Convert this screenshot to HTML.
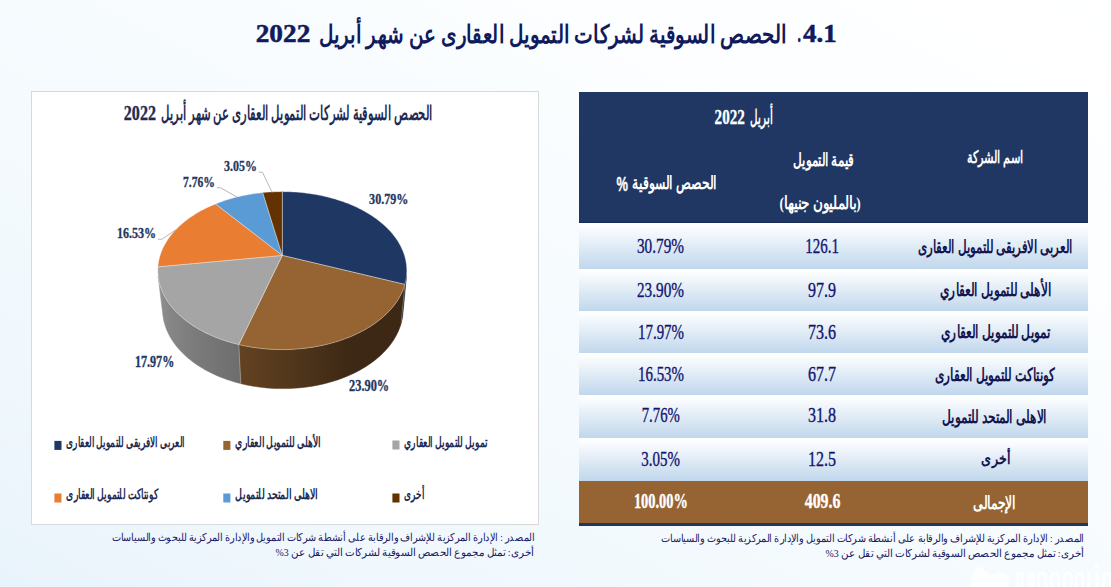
<!DOCTYPE html>
<html lang="ar"><head><meta charset="utf-8"><title>4.1</title>
<style>
html,body{margin:0;padding:0}
body{width:1111px;height:587px;overflow:hidden;position:relative;font-family:"Liberation Serif",serif;background:linear-gradient(to bottom left,#ffffff 0%,#fcfeff 25%,#f6fbfe 50%,#f0f8fd 82%,#e9f3fb 100%)}
#panel{position:absolute;left:30.9px;top:91.3px;width:506.4px;height:432px;background:#fff;border:1px solid #d9d9d9;box-sizing:content-box}
#tbl{position:absolute;left:579px;top:92px;width:509px;height:434px;background:#203764}
#tbl .h{position:absolute;left:0;top:0;width:100%;height:131px;background:#203764;box-sizing:border-box;border-bottom:1px solid #182c55}
#tbl .r{position:absolute;left:0;width:100%;background:linear-gradient(#ffffff 0%,#fdfeff 6%,#c0d7ec 100%)}
#tbl .t{position:absolute;left:0;top:389px;width:100%;height:41.6px;background:#966432}
svg{position:absolute;left:0;top:0}
.ar{font-family:"Liberation Serif",serif;direction:rtl}
</style></head><body>
<div id="panel"></div>
<div id="tbl"><div class="h"></div><div class="r" style="top:131.0px;height:45.5px"></div><div class="r" style="top:176.5px;height:42.5px"></div><div class="r" style="top:219.0px;height:42.0px"></div><div class="r" style="top:261.0px;height:42.3px"></div><div class="r" style="top:303.3px;height:42.5px"></div><div class="r" style="top:345.8px;height:43.2px"></div><div class="t"></div></div>
<svg width="1111" height="587" viewBox="0 0 1111 587">
<defs><linearGradient id="w0" gradientUnits="userSpaceOnUse" x1="401.24" y1="0" x2="406.57" y2="0"><stop offset="0.341" stop-color="#0c1628"/><stop offset="0.379" stop-color="#0c1628"/><stop offset="0.415" stop-color="#0c1628"/><stop offset="0.448" stop-color="#0c1628"/><stop offset="0.480" stop-color="#0c1628"/><stop offset="0.509" stop-color="#0c1628"/><stop offset="0.536" stop-color="#0c1628"/><stop offset="0.561" stop-color="#0c1628"/><stop offset="0.584" stop-color="#0c1628"/><stop offset="0.605" stop-color="#0c1628"/><stop offset="0.623" stop-color="#0c1628"/><stop offset="0.640" stop-color="#0c1628"/><stop offset="0.654" stop-color="#0c1628"/></linearGradient><linearGradient id="w1" gradientUnits="userSpaceOnUse" x1="238.80" y1="0" x2="404.87" y2="0"><stop offset="0.006" stop-color="#634221"/><stop offset="0.113" stop-color="#5d3e1f"/><stop offset="0.224" stop-color="#563a1d"/><stop offset="0.336" stop-color="#50361b"/><stop offset="0.446" stop-color="#4a3119"/><stop offset="0.551" stop-color="#442d17"/><stop offset="0.649" stop-color="#3e2915"/><stop offset="0.737" stop-color="#3c2814"/><stop offset="0.814" stop-color="#3c2814"/><stop offset="0.878" stop-color="#3c2814"/><stop offset="0.928" stop-color="#3c2814"/><stop offset="0.965" stop-color="#3c2814"/><stop offset="0.989" stop-color="#3c2814"/></linearGradient><linearGradient id="w2" gradientUnits="userSpaceOnUse" x1="158.17" y1="0" x2="240.76" y2="0"><stop offset="0.028" stop-color="#919191"/><stop offset="0.044" stop-color="#8e8e8e"/><stop offset="0.071" stop-color="#8b8b8b"/><stop offset="0.111" stop-color="#888888"/><stop offset="0.162" stop-color="#858585"/><stop offset="0.226" stop-color="#838383"/><stop offset="0.303" stop-color="#808080"/><stop offset="0.391" stop-color="#7d7d7d"/><stop offset="0.491" stop-color="#7a7a7a"/><stop offset="0.601" stop-color="#777777"/><stop offset="0.722" stop-color="#747474"/><stop offset="0.851" stop-color="#717171"/><stop offset="0.988" stop-color="#6d6d6d"/></linearGradient>
</defs>
<g id="pie"><path d="M406.57 275.41 L406.30 277.66 L405.93 279.92 L405.45 282.19 L404.87 284.45 L401.24 322.96 L401.80 320.67 L402.26 318.39 L402.62 316.12 L402.88 313.84Z" fill="url(#w0)" stroke="url(#w0)" stroke-width="0.5"/><path d="M404.87 284.45 L404.22 286.61 L403.46 288.77 L402.61 290.92 L401.66 293.07 L400.61 295.21 L399.45 297.34 L398.20 299.46 L396.84 301.56 L395.38 303.65 L393.82 305.72 L392.15 307.78 L390.39 309.80 L388.52 311.81 L386.55 313.79 L384.48 315.73 L382.31 317.65 L380.04 319.53 L377.68 321.37 L375.22 323.18 L372.66 324.95 L370.01 326.67 L367.27 328.34 L364.44 329.97 L361.52 331.54 L358.52 333.07 L355.43 334.54 L352.26 335.95 L349.02 337.30 L345.70 338.59 L342.31 339.82 L338.86 340.98 L335.34 342.07 L331.76 343.10 L328.12 344.06 L324.43 344.94 L320.69 345.75 L316.91 346.49 L313.08 347.15 L309.22 347.73 L305.33 348.24 L301.41 348.66 L297.46 349.01 L293.50 349.28 L289.53 349.47 L285.55 349.57 L281.56 349.60 L277.58 349.54 L273.60 349.41 L269.63 349.19 L265.67 348.89 L261.74 348.52 L257.83 348.06 L253.95 347.52 L250.10 346.91 L246.29 346.22 L242.52 345.46 L238.80 344.62 L240.76 383.58 L244.36 384.43 L248.00 385.20 L251.68 385.89 L255.40 386.51 L259.15 387.05 L262.93 387.51 L266.73 387.89 L270.55 388.19 L274.39 388.41 L278.23 388.54 L282.09 388.60 L285.94 388.57 L289.79 388.47 L293.63 388.28 L297.45 388.01 L301.26 387.66 L305.05 387.23 L308.81 386.72 L312.54 386.13 L316.24 385.46 L319.89 384.72 L323.51 383.90 L327.07 383.01 L330.59 382.05 L334.05 381.02 L337.45 379.91 L340.79 378.74 L344.06 377.50 L347.27 376.20 L350.40 374.84 L353.46 373.42 L356.44 371.94 L359.35 370.41 L362.17 368.82 L364.90 367.18 L367.55 365.49 L370.11 363.76 L372.58 361.98 L374.96 360.16 L377.25 358.30 L379.44 356.41 L381.53 354.48 L383.53 352.51 L385.44 350.52 L387.24 348.50 L388.95 346.46 L390.56 344.39 L392.06 342.30 L393.48 340.20 L394.79 338.08 L396.00 335.94 L397.12 333.79 L398.13 331.64 L399.05 329.47 L399.88 327.30 L400.60 325.13 L401.24 322.96Z" fill="url(#w1)" stroke="url(#w1)" stroke-width="0.5"/><path d="M238.80 344.62 L235.10 343.70 L231.46 342.71 L227.88 341.65 L224.37 340.53 L220.92 339.33 L217.54 338.07 L214.23 336.75 L211.00 335.36 L207.84 333.92 L204.77 332.41 L201.79 330.86 L198.89 329.25 L196.08 327.59 L193.37 325.88 L190.74 324.13 L188.21 322.34 L185.78 320.50 L183.45 318.63 L181.21 316.72 L179.08 314.77 L177.05 312.80 L175.12 310.80 L173.29 308.77 L171.57 306.71 L169.95 304.64 L168.43 302.54 L167.02 300.43 L165.71 298.30 L164.50 296.17 L163.39 294.02 L162.39 291.86 L161.49 289.69 L160.69 287.53 L159.99 285.36 L159.39 283.18 L158.89 281.01 L158.48 278.85 L158.17 276.69 L162.86 315.13 L163.16 317.31 L163.55 319.49 L164.04 321.68 L164.62 323.87 L165.29 326.05 L166.07 328.24 L166.94 330.42 L167.91 332.59 L168.97 334.76 L170.14 336.92 L171.41 339.06 L172.77 341.19 L174.24 343.30 L175.80 345.39 L177.47 347.46 L179.24 349.50 L181.10 351.52 L183.06 353.51 L185.13 355.47 L187.28 357.39 L189.54 359.28 L191.89 361.13 L194.33 362.94 L196.87 364.70 L199.49 366.42 L202.20 368.10 L205.00 369.72 L207.89 371.28 L210.86 372.80 L213.90 374.25 L217.02 375.65 L220.22 376.98 L223.49 378.25 L226.82 379.46 L230.22 380.59 L233.68 381.66 L237.20 382.66 L240.76 383.58Z" fill="url(#w2)" stroke="url(#w2)" stroke-width="0.5"/><path d="M404.87 284.45 L401.24 322.96" stroke="#d8cfc4" stroke-opacity="0.6" stroke-width="0.6" fill="none"/><path d="M238.80 344.62 L240.76 383.58" stroke="#d8cfc4" stroke-opacity="0.6" stroke-width="0.6" fill="none"/><path d="M282.3 255.4 L282.30 191.61 L285.02 191.63 L287.73 191.69 L290.44 191.78 L293.15 191.91 L295.86 192.08 L298.56 192.29 L301.25 192.53 L303.94 192.82 L306.62 193.13 L309.29 193.49 L311.95 193.89 L314.60 194.32 L317.24 194.79 L319.86 195.29 L322.47 195.84 L325.07 196.42 L327.65 197.04 L330.21 197.69 L332.75 198.39 L335.28 199.12 L337.78 199.89 L340.26 200.69 L342.72 201.53 L345.15 202.41 L347.56 203.33 L349.94 204.28 L352.29 205.27 L354.62 206.30 L356.91 207.36 L359.17 208.46 L361.40 209.60 L363.59 210.77 L365.75 211.98 L367.87 213.22 L369.95 214.50 L371.99 215.81 L373.99 217.16 L375.95 218.55 L377.86 219.96 L379.73 221.42 L381.55 222.90 L383.32 224.42 L385.04 225.97 L386.70 227.56 L388.32 229.18 L389.87 230.82 L391.37 232.50 L392.82 234.21 L394.20 235.95 L395.52 237.72 L396.77 239.52 L397.96 241.35 L399.08 243.20 L400.14 245.08 L401.12 246.99 L402.03 248.92 L402.87 250.87 L403.63 252.85 L404.31 254.85 L404.92 256.87 L405.44 258.91 L405.89 260.97 L406.24 263.05 L406.52 265.14 L406.70 267.25 L406.80 269.37 L406.81 271.50 L406.72 273.64 L406.55 275.79 L406.27 277.95 L405.91 280.12 L405.45 282.28 L404.88 284.45Z" fill="#1f3763" stroke="#f2f2f2" stroke-opacity="0.7" stroke-width="0.55" stroke-linejoin="round"/><path d="M282.3 255.4 L404.88 284.45 L404.23 286.61 L403.48 288.77 L402.62 290.92 L401.67 293.07 L400.62 295.21 L399.46 297.34 L398.21 299.46 L396.85 301.57 L395.39 303.65 L393.83 305.73 L392.16 307.78 L390.39 309.81 L388.52 311.81 L386.56 313.79 L384.48 315.73 L382.32 317.65 L380.05 319.53 L377.68 321.38 L375.22 323.18 L372.66 324.94 L370.01 326.67 L367.27 328.34 L364.44 329.97 L361.52 331.54 L358.51 333.06 L355.42 334.53 L352.26 335.94 L349.01 337.29 L345.70 338.58 L342.31 339.81 L338.85 340.97 L335.33 342.07 L331.75 343.09 L328.11 344.05 L324.42 344.93 L320.68 345.74 L316.90 346.48 L313.08 347.14 L309.22 347.72 L305.32 348.23 L301.40 348.65 L297.46 349.00 L293.50 349.27 L289.53 349.45 L285.55 349.56 L281.56 349.59 L277.58 349.53 L273.60 349.39 L269.63 349.18 L265.67 348.88 L261.74 348.50 L257.83 348.05 L253.95 347.51 L250.10 346.90 L246.29 346.21 L242.52 345.45 L238.80 344.61Z" fill="#966432" stroke="#f2f2f2" stroke-opacity="0.7" stroke-width="0.55" stroke-linejoin="round"/><path d="M282.3 255.4 L238.80 344.61 L235.14 343.70 L231.54 342.73 L227.99 341.68 L224.50 340.56 L221.08 339.38 L217.73 338.14 L214.45 336.83 L211.24 335.46 L208.11 334.04 L205.06 332.56 L202.10 331.02 L199.22 329.43 L196.42 327.80 L193.72 326.11 L191.11 324.38 L188.59 322.61 L186.17 320.80 L183.84 318.95 L181.61 317.06 L179.47 315.15 L177.44 313.20 L175.51 311.22 L173.68 309.21 L171.94 307.18 L170.31 305.13 L168.79 303.06 L167.36 300.97 L166.03 298.87 L164.81 296.76 L163.69 294.63 L162.66 292.49 L161.74 290.35 L160.92 288.21 L160.19 286.06 L159.56 283.90 L159.03 281.75 L158.60 279.61 L158.26 277.46 L158.01 275.33 L157.85 273.20 L157.79 271.07 L157.81 268.96 L157.92 266.87Z" fill="#a5a5a5" stroke="#f2f2f2" stroke-opacity="0.7" stroke-width="0.55" stroke-linejoin="round"/><path d="M282.3 255.4 L157.92 266.87 L158.13 264.75 L158.42 262.65 L158.79 260.57 L159.25 258.50 L159.80 256.46 L160.42 254.43 L161.13 252.43 L161.91 250.44 L162.76 248.49 L163.70 246.55 L164.70 244.64 L165.78 242.76 L166.92 240.90 L168.13 239.07 L169.41 237.27 L170.75 235.50 L172.16 233.76 L173.62 232.05 L175.14 230.37 L176.73 228.72 L178.36 227.11 L180.05 225.52 L181.79 223.97 L183.59 222.46 L185.43 220.97 L187.32 219.52 L189.26 218.11 L191.24 216.73 L193.26 215.39 L195.32 214.08 L197.43 212.80 L199.57 211.57 L201.75 210.37 L203.97 209.20 L206.22 208.07 L208.50 206.98 L210.82 205.93 L213.17 204.91 L215.54 203.93Z" fill="#e97e32" stroke="#f2f2f2" stroke-opacity="0.7" stroke-width="0.55" stroke-linejoin="round"/><path d="M282.3 255.4 L215.54 203.93 L217.98 202.97 L220.46 202.04 L222.95 201.16 L225.48 200.32 L228.02 199.51 L230.59 198.75 L233.18 198.02 L235.79 197.33 L238.42 196.68 L241.06 196.07 L243.73 195.50 L246.40 194.97 L249.10 194.47 L251.80 194.02 L254.52 193.60 L257.24 193.23 L259.98 192.89 L262.73 192.60Z" fill="#5b9bd5" stroke="#f2f2f2" stroke-opacity="0.7" stroke-width="0.55" stroke-linejoin="round"/><path d="M282.3 255.4 L262.73 192.60 L265.51 192.33 L268.30 192.11 L271.09 191.93 L273.89 191.79 L276.69 191.69 L279.49 191.63 L282.30 191.61Z" fill="#633200" stroke="#f2f2f2" stroke-opacity="0.7" stroke-width="0.55" stroke-linejoin="round"/><path d="M258.60 172.10 L262.50 172.30 L272.20 192.50" stroke="#a6a6a6" stroke-width="0.8" fill="none"/><path d="M216.80 187.80 L220.60 187.80 L237.80 197.50" stroke="#a6a6a6" stroke-width="0.8" fill="none"/><path d="M158.00 239.10 L161.70 239.30 L175.60 230.00" stroke="#a6a6a6" stroke-width="0.8" fill="none"/></g>
<g id="wm" opacity="0.85"><path d="M969.1 587.7 L973.8 570.1 L981.3 566.1 L986.0 572.1 L990.0 575.5 L998.8 571.5 L1008.3 575.5 L1009.6 587.7Z" fill="#fff"/><path d="M1017.4 590 V575.5 A2.3 2.3 0 0 1 1022.0 575.5 V590" fill="none" stroke="#fff" stroke-width="3.5"/><path d="M1038.4 590 V576.9 A3.6 3.6 0 0 1 1045.6 576.9 V590" fill="none" stroke="#fff" stroke-width="3.5"/><path d="M1051.2 590 V576.9 A3.6 3.6 0 0 1 1058.5 576.9 V590" fill="none" stroke="#fff" stroke-width="3.5"/><path d="M1064.0 590 V576.9 A3.6 3.6 0 0 1 1071.3 576.9 V590" fill="none" stroke="#fff" stroke-width="3.5"/><path d="M1076.2 590 V576.5 A3.3 3.3 0 0 1 1082.8 576.5 V590" fill="none" stroke="#fff" stroke-width="3.5"/><path d="M1103.8 590 V576.9 A3.6 3.6 0 0 1 1111.1 576.9 V590" fill="none" stroke="#fff" stroke-width="3.5"/><rect x="1027.2" y="572.1" width="7.4" height="30" fill="#fff"/><rect x="1086.6" y="572.1" width="4.1" height="30" fill="#fff"/><rect x="1095.3" y="572.1" width="4.1" height="30" fill="#fff"/><circle cx="1096.7" cy="566.7" r="2.6" fill="#fff"/></g>
<g id="legend-markers"><rect x="54.4" y="440.9" width="7.1" height="9" fill="#1f3763"/><rect x="223.3" y="440.9" width="7.1" height="9" fill="#966432"/><rect x="392.4" y="440.5" width="7.1" height="9" fill="#a5a5a5"/><rect x="54.4" y="493.5" width="7.1" height="9" fill="#e97e32"/><rect x="223.3" y="493.5" width="7.1" height="9" fill="#5b9bd5"/><rect x="392.4" y="493.5" width="7.1" height="9" fill="#633200"/></g>
<g id="texts">
<text class="ar" x="552.7" y="43.1" font-size="24.9" font-weight="bold" fill="#101a5c" text-anchor="middle" textLength="468" lengthAdjust="spacingAndGlyphs">الحصص السوقية لشركات التمويل العقارى عن شهر أبريل</text>
<text transform="translate(255.70 42.15) scale(1.1101 1)" font-family="Liberation Serif" font-size="24.59" font-weight="bold" fill="#101a5c" stroke="#101a5c" stroke-width="0.5">2022</text>
<text transform="translate(803.00 42.06) scale(1.0946 1)" font-family="Liberation Serif" font-size="24.63" font-weight="bold" fill="#101a5c" stroke="#101a5c" stroke-width="0.5">4.1</text>
<text transform="translate(797.60 42.25) scale(0.5508 1)" font-family="Liberation Serif" font-size="24.69" font-weight="bold" fill="#101a5c" stroke="#101a5c" stroke-width="0.5">.</text>
<text class="ar" x="296.9" y="120.3" font-size="19.5" font-weight="bold" fill="#1e2a52" text-anchor="middle" textLength="271.7" lengthAdjust="spacingAndGlyphs">الحصص السوقية لشركات التمويل العقارى عن شهر أبريل</text>
<text transform="translate(123.80 119.80) scale(0.8050 1)" font-family="Liberation Serif" font-size="20.00" font-weight="bold" fill="#1e2a52" stroke="#1e2a52" stroke-width="0.35">2022</text>
<text transform="translate(369.10 203.58) scale(0.7820 1)" font-family="Liberation Serif" font-size="15.46" font-weight="bold" fill="#1f3864" stroke="#1f3864" stroke-width="0.35">30.79%</text>
<text transform="translate(349.10 390.58) scale(0.7830 1)" font-family="Liberation Serif" font-size="15.76" font-weight="bold" fill="#1f3864" stroke="#1f3864" stroke-width="0.35">23.90%</text>
<text transform="translate(134.90 366.57) scale(0.7483 1)" font-family="Liberation Serif" font-size="16.20" font-weight="bold" fill="#1f3864" stroke="#1f3864" stroke-width="0.35">17.97%</text>
<text transform="translate(117.00 238.19) scale(0.7855 1)" font-family="Liberation Serif" font-size="15.32" font-weight="bold" fill="#1f3864" stroke="#1f3864" stroke-width="0.35">16.53%</text>
<text transform="translate(183.00 187.39) scale(0.7823 1)" font-family="Liberation Serif" font-size="14.87" font-weight="bold" fill="#1f3864" stroke="#1f3864" stroke-width="0.35">7.76%</text>
<text transform="translate(224.10 171.49) scale(0.7787 1)" font-family="Liberation Serif" font-size="15.32" font-weight="bold" fill="#1f3864" stroke="#1f3864" stroke-width="0.35">3.05%</text>
<text class="ar" x="125.5" y="446.6" font-size="13.6" font-weight="bold" fill="#1e2a52" text-anchor="middle" textLength="118.4" lengthAdjust="spacingAndGlyphs">العربى الافريقى للتمويل العقارى</text>
<text class="ar" x="277.9" y="446.6" font-size="13.6" font-weight="bold" fill="#1e2a52" text-anchor="middle" textLength="85.1" lengthAdjust="spacingAndGlyphs">الأهلى للتمويل العقاري</text>
<text class="ar" x="445.8" y="446.6" font-size="13.6" font-weight="bold" fill="#1e2a52" text-anchor="middle" textLength="83" lengthAdjust="spacingAndGlyphs">تمويل للتمويل العقاري</text>
<text class="ar" x="112.3" y="499.2" font-size="13.6" font-weight="bold" fill="#1e2a52" text-anchor="middle" textLength="91.9" lengthAdjust="spacingAndGlyphs">كونتاكت للتمويل العقارى</text>
<text class="ar" x="276.7" y="499.2" font-size="13.6" font-weight="bold" fill="#1e2a52" text-anchor="middle" textLength="82.6" lengthAdjust="spacingAndGlyphs">الاهلى المتحد للتمويل</text>
<text class="ar" x="414.4" y="499.2" font-size="13.6" font-weight="bold" fill="#1e2a52" text-anchor="middle" textLength="20.2" lengthAdjust="spacingAndGlyphs">أخرى</text>
<text class="ar" x="323.1" y="541.3" font-size="10.6" fill="#1a1a66" text-anchor="middle" textLength="422.2" lengthAdjust="spacingAndGlyphs">المصدر : الإدارة المركزية للإشراف والرقابة على أنشطة شركات التمويل والإدارة المركزية للبحوث والسياسات</text>
<text class="ar" x="404.7" y="556.2" font-size="10.6" fill="#1a1a66" text-anchor="middle" textLength="258.4" lengthAdjust="spacingAndGlyphs">أخرى: تمثل مجموع الحصص السوقية لشركات التي تقل عن 3%</text>
<text class="ar" x="872.7" y="542.1" font-size="10.6" fill="#1a1a66" text-anchor="middle" textLength="422.9" lengthAdjust="spacingAndGlyphs">المصدر : الإدارة المركزية للإشراف والرقابة على أنشطة شركات التمويل والإدارة المركزية للبحوث والسياسات</text>
<text class="ar" x="954.7" y="557.0" font-size="10.6" fill="#1a1a66" text-anchor="middle" textLength="258.4" lengthAdjust="spacingAndGlyphs">أخرى: تمثل مجموع الحصص السوقية لشركات التي تقل عن 3%</text>
<text class="ar" x="761.6" y="124.0" font-size="20" font-weight="bold" fill="#fff" text-anchor="middle" textLength="22.5" lengthAdjust="spacingAndGlyphs">أبريل</text>
<text transform="translate(714.60 123.79) scale(0.7029 1)" font-family="Liberation Serif" font-size="21.48" font-weight="bold" fill="#fff" stroke="#fff" stroke-width="0.35">2022</text>
<text class="ar" x="674.6" y="189.3" font-size="17.7" font-weight="bold" fill="#fff" text-anchor="middle" textLength="84.3" lengthAdjust="spacingAndGlyphs">الحصص السوقية</text>
<text transform="translate(616.40 190.74) scale(0.6358 1)" font-family="Liberation Sans" font-size="20.17" font-weight="bold" fill="#fff" stroke="#fff" stroke-width="0.35">%</text>
<text class="ar" x="823.5" y="166.1" font-size="17.7" font-weight="bold" fill="#fff" text-anchor="middle" textLength="60.9" lengthAdjust="spacingAndGlyphs">قيمة التمويل</text>
<text class="ar" x="820.2" y="208.5" font-size="17.7" font-weight="bold" fill="#fff" text-anchor="middle" textLength="81.2" lengthAdjust="spacingAndGlyphs">(بالمليون جنيها)</text>
<text class="ar" x="995.0" y="163.3" font-size="17.3" font-weight="bold" fill="#fff" text-anchor="middle" textLength="56.7" lengthAdjust="spacingAndGlyphs">اسم الشركة</text>
<text class="ar" x="995.2" y="253.2" font-size="17.9" font-weight="bold" fill="#15154f" text-anchor="middle" textLength="154.4" lengthAdjust="spacingAndGlyphs">العربى الافريقى للتمويل العقارى</text>
<text class="ar" x="995.6" y="296.3" font-size="17.9" font-weight="bold" fill="#15154f" text-anchor="middle" textLength="111.1" lengthAdjust="spacingAndGlyphs">الأهلى للتمويل العقاري</text>
<text class="ar" x="995.7" y="338.1" font-size="17.9" font-weight="bold" fill="#15154f" text-anchor="middle" textLength="109.4" lengthAdjust="spacingAndGlyphs">تمويل للتمويل العقاري</text>
<text class="ar" x="995.0" y="380.7" font-size="17.9" font-weight="bold" fill="#15154f" text-anchor="middle" textLength="119.9" lengthAdjust="spacingAndGlyphs">كونتاكت للتمويل العقارى</text>
<text class="ar" x="994.4" y="423.3" font-size="17.9" font-weight="bold" fill="#15154f" text-anchor="middle" textLength="104.9" lengthAdjust="spacingAndGlyphs">الاهلى المتحد للتمويل</text>
<text class="ar" x="995.5" y="464.3" font-size="16.1" font-weight="bold" fill="#15154f" text-anchor="middle" textLength="28.4" lengthAdjust="spacingAndGlyphs">أخرى</text>
<text class="ar" x="994.4" y="508.6" font-size="17.9" font-weight="bold" fill="#fff" text-anchor="middle" textLength="42.2" lengthAdjust="spacingAndGlyphs">الإجمالى</text>
<text transform="translate(637.00 252.62) scale(0.7501 1)" font-family="Liberation Serif" font-size="20.32" font-weight="normal" fill="#141470" stroke="#141470" stroke-width="0.35">30.79%</text>
<text transform="translate(637.00 297.42) scale(0.7611 1)" font-family="Liberation Serif" font-size="20.03" font-weight="normal" fill="#141470" stroke="#141470" stroke-width="0.35">23.90%</text>
<text transform="translate(638.00 339.42) scale(0.7341 1)" font-family="Liberation Serif" font-size="20.32" font-weight="normal" fill="#141470" stroke="#141470" stroke-width="0.35">17.97%</text>
<text transform="translate(638.00 381.42) scale(0.7449 1)" font-family="Liberation Serif" font-size="20.03" font-weight="normal" fill="#141470" stroke="#141470" stroke-width="0.35">16.53%</text>
<text transform="translate(641.70 422.41) scale(0.7122 1)" font-family="Liberation Serif" font-size="20.77" font-weight="normal" fill="#141470" stroke="#141470" stroke-width="0.35">7.76%</text>
<text transform="translate(641.20 466.32) scale(0.7480 1)" font-family="Liberation Serif" font-size="20.03" font-weight="normal" fill="#141470" stroke="#141470" stroke-width="0.35">3.05%</text>
<text transform="translate(805.20 252.61) scale(0.7359 1)" font-family="Liberation Serif" font-size="20.41" font-weight="normal" fill="#141470" stroke="#141470" stroke-width="0.35">126.1</text>
<text transform="translate(808.00 297.42) scale(0.7981 1)" font-family="Liberation Serif" font-size="20.12" font-weight="normal" fill="#141470" stroke="#141470" stroke-width="0.35">97.9</text>
<text transform="translate(808.00 339.41) scale(0.7866 1)" font-family="Liberation Serif" font-size="20.41" font-weight="normal" fill="#141470" stroke="#141470" stroke-width="0.35">73.6</text>
<text transform="translate(808.00 381.42) scale(0.7981 1)" font-family="Liberation Serif" font-size="20.12" font-weight="normal" fill="#141470" stroke="#141470" stroke-width="0.35">67.7</text>
<text transform="translate(808.00 422.41) scale(0.7732 1)" font-family="Liberation Serif" font-size="20.77" font-weight="normal" fill="#141470" stroke="#141470" stroke-width="0.35">31.8</text>
<text transform="translate(808.00 466.32) scale(0.7981 1)" font-family="Liberation Serif" font-size="20.12" font-weight="normal" fill="#141470" stroke="#141470" stroke-width="0.35">12.5</text>
<text transform="translate(633.90 508.01) scale(0.7047 1)" font-family="Liberation Serif" font-size="20.47" font-weight="bold" fill="#fff" stroke="#fff" stroke-width="0.35">100.00%</text>
<text transform="translate(804.70 508.01) scale(0.7772 1)" font-family="Liberation Serif" font-size="20.47" font-weight="bold" fill="#fff" stroke="#fff" stroke-width="0.35">409.6</text>
</g>
</svg>
</body></html>
